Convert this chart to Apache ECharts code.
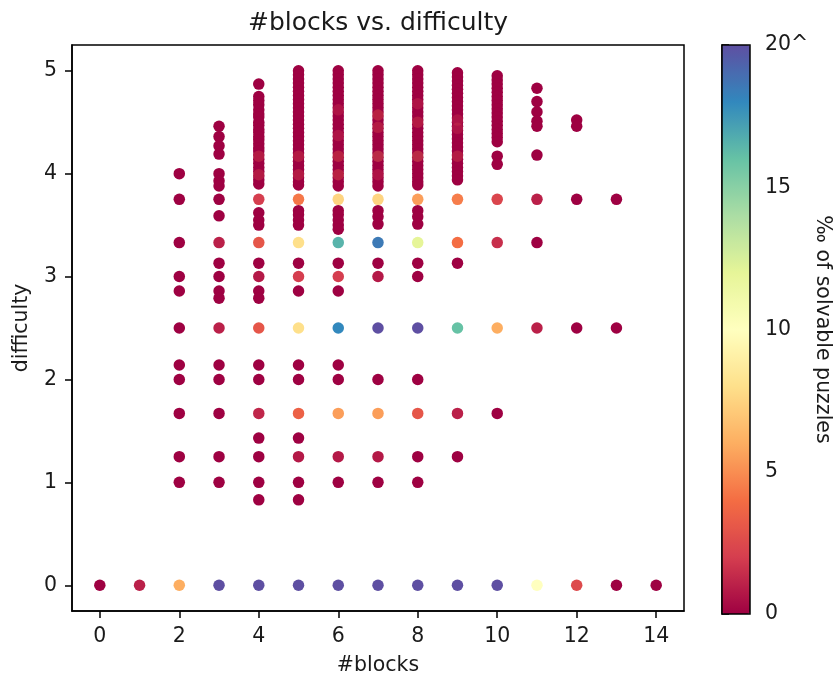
<!DOCTYPE html>
<html>
<head>
<meta charset="utf-8">
<title>#blocks vs. difficulty</title>
<script src="https://cdn.jsdelivr.net/npm/echarts@6/dist/echarts.min.js"></script>
<style>
  html, body { margin: 0; padding: 0; background: #fff; }
  #chart { width: 837px; height: 681px; }
</style>
</head>
<body>
<div id="chart"></div>
<script>
// each entry: [difficulty, ‰ of solvable puzzles]
var blocks0 = [[0, 0]];
var blocks1 = [[0, 1]];
var blocks2 = [[4.0, 0], [3.75, 0], [3.33, 0], [3.0, 0], [2.86, 0], [2.5, 0], [2.14, 0], [2.0, 0], [1.67, 0], [1.25, 0], [1.0, 0], [0, 6]];
var blocks3 = [[4.46, 0], [4.36, 0], [4.27, 0], [4.19, 0], [4.0, 0], [3.93, 0], [3.88, 0], [3.75, 0], [3.59, 0], [3.33, 1],
  [3.13, 0], [3.0, 0], [2.86, 0], [2.79, 0], [2.5, 1], [2.14, 0], [2.0, 0], [1.67, 0], [1.25, 0], [1.0, 0], [0, 20]];
var blocks4 = [[4.87, 0], [4.75, 0], [4.71, 0], [4.67, 0], [4.62, 0], [4.58, 0], [4.55, 0], [4.5, 0], [4.47, 0], [4.43, 0],
  [4.4, 0], [4.36, 0], [4.33, 0], [4.29, 0], [4.25, 0], [4.22, 0], [4.18, 0], [4.14, 0], [4.1, 0], [4.06, 0], [4.02, 0],
  [3.98, 0], [3.94, 0], [3.9, 0], [3.75, 2], [3.62, 0], [3.55, 0], [3.5, 0], [3.33, 3], [3.13, 0], [3.0, 0.8], [2.86, 0],
  [2.79, 0], [2.5, 3], [2.14, 0], [2.0, 0], [1.67, 1.2], [1.43, 0], [1.25, 0], [1.0, 0], [0.83, 0], [0, 20]];
var blocks5 = [[5.0, 0], [4.96, 0], [4.92, 0], [4.88, 0], [4.84, 0], [4.8, 0], [4.76, 0], [4.72, 0], [4.68, 0], [4.64, 0],
  [4.6, 0], [4.56, 0], [4.52, 0], [4.48, 0], [4.44, 0], [4.4, 0], [4.36, 0], [4.32, 0], [4.28, 0], [4.24, 0], [4.2, 0],
  [4.16, 0], [4.12, 0], [4.08, 0], [4.04, 0], [4.0, 0], [3.96, 0], [3.92, 0], [3.89, 0], [3.75, 4.3], [3.64, 0], [3.6, 0],
  [3.55, 0], [3.5, 0], [3.33, 8], [3.13, 0], [3.0, 2], [2.86, 0], [2.5, 8], [2.14, 0], [2.0, 0], [1.67, 3.5], [1.43, 0],
  [1.25, 0.8], [1.0, 0], [0.83, 0], [0, 20]];
var blocks6 = [[5.0, 0], [4.96, 0], [4.92, 0], [4.88, 0], [4.84, 0], [4.8, 0], [4.76, 0], [4.72, 0], [4.68, 0], [4.64, 0],
  [4.6, 0], [4.56, 0], [4.52, 0], [4.48, 0], [4.44, 0], [4.4, 0], [4.36, 0], [4.32, 0], [4.28, 0], [4.24, 0], [4.2, 0],
  [4.16, 0], [4.12, 0], [4.08, 0], [4.04, 0], [4.0, 0], [3.96, 0], [3.92, 0], [3.88, 0], [3.75, 7.5], [3.64, 0], [3.6, 0],
  [3.55, 0], [3.5, 0], [3.46, 0], [3.33, 16.5], [3.13, 0], [3.0, 2], [2.86, 0], [2.5, 18], [2.14, 0], [2.0, 0], [1.67, 5.5],
  [1.25, 0.8], [1.0, 0], [0, 20]];
var blocks7 = [[5.0, 0], [4.96, 0], [4.92, 0], [4.88, 0], [4.84, 0], [4.8, 0], [4.76, 0], [4.72, 0], [4.68, 0], [4.64, 0],
  [4.6, 0], [4.56, 0], [4.52, 0], [4.48, 0], [4.44, 0], [4.4, 0], [4.36, 0], [4.32, 0], [4.28, 0], [4.24, 0], [4.2, 0],
  [4.16, 0], [4.12, 0], [4.08, 0], [4.04, 0], [4.0, 0], [3.96, 0], [3.92, 0], [3.88, 0], [3.75, 7.5], [3.64, 0], [3.58, 0],
  [3.51, 0], [3.33, 18.5], [3.13, 0], [3.0, 0.8], [2.5, 20], [2.0, 0], [1.67, 5.5], [1.25, 0.8], [1.0, 0], [0, 20]];
var blocks8 = [[5.0, 0], [4.96, 0], [4.92, 0], [4.88, 0], [4.84, 0], [4.8, 0], [4.76, 0], [4.72, 0], [4.68, 0], [4.64, 0],
  [4.6, 0], [4.56, 0], [4.52, 0], [4.48, 0], [4.44, 0], [4.4, 0], [4.36, 0], [4.32, 0], [4.28, 0], [4.24, 0], [4.2, 0],
  [4.16, 0], [4.12, 0], [4.08, 0], [4.04, 0], [4.0, 0], [3.96, 0], [3.92, 0], [3.89, 0], [3.75, 5.5], [3.64, 0], [3.58, 0],
  [3.51, 0], [3.33, 12], [3.13, 0], [3.0, 0], [2.5, 20], [2.0, 0], [1.67, 3], [1.25, 0], [1.0, 0], [0, 20]];
var blocks9 = [[4.98, 0], [4.94, 0], [4.9, 0], [4.86, 0], [4.82, 0], [4.78, 0], [4.74, 0], [4.7, 0], [4.66, 0], [4.62, 0],
  [4.58, 0], [4.54, 0], [4.5, 0], [4.46, 0], [4.42, 0], [4.38, 0], [4.34, 0], [4.3, 0], [4.26, 0], [4.22, 0], [4.18, 0],
  [4.14, 0], [4.1, 0], [4.06, 0], [4.02, 0], [3.98, 0], [3.94, 0], [3.75, 4.5], [3.33, 4], [3.13, 0], [2.5, 16], [1.67, 1],
  [1.25, 0], [0, 20]];
var blocks10 = [[4.95, 0], [4.91, 0], [4.87, 0], [4.83, 0], [4.79, 0], [4.75, 0], [4.71, 0], [4.67, 0], [4.63, 0], [4.59, 0],
  [4.55, 0], [4.51, 0], [4.47, 0], [4.43, 0], [4.39, 0], [4.35, 0], [4.31, 0], [4.17, 0], [4.09, 0], [3.75, 2.3], [3.33, 1.5],
  [2.5, 6], [1.67, 0], [0, 20]];
var blocks11 = [[4.83, 0], [4.7, 0], [4.6, 0], [4.51, 0], [4.46, 0], [4.18, 0], [3.75, 1], [3.33, 0], [2.5, 1], [0, 10]];
var blocks12 = [[4.52, 0], [4.46, 0], [3.75, 0], [2.5, 0], [0, 2.5]];
var blocks13 = [[3.75, 0], [2.5, 0], [0, 0]];
var blocks14 = [[0, 0]];

// points that sit inside the dense columns and only partly show through
var hidden4 = [[4.17, 3], [3.99, 3]];
var hidden5 = [[4.17, 3], [3.99, 3]];
var hidden6 = [[4.62, 2], [4.37, 2], [4.17, 4], [3.99, 4]];
var hidden7 = [[4.57, 4], [4.45, 3], [4.17, 5], [3.99, 2]];
var hidden8 = [[4.68, 2], [4.5, 3], [4.17, 5]];
var hidden9 = [[4.52, 2], [4.44, 2], [4.17, 3]];

var xTicks = [0, 2, 4, 6, 8, 10, 12, 14];
var yTicks = [0, 1, 2, 3, 4, 5];
var cbarTickLabels = {0: '0', 5: '5', 10: '10', 15: '15', 20: '20^'};
var spectral = ['#9e0142', '#d53e4f', '#f46d43', '#fdae61', '#fee08b', '#ffffbf',
  '#e6f598', '#abdda4', '#66c2a5', '#3288bd', '#5e4fa2'];

var columns = [blocks0, blocks1, blocks2, blocks3, blocks4, blocks5, blocks6, blocks7,
  blocks8, blocks9, blocks10, blocks11, blocks12, blocks13, blocks14];
var hiddenCols = {4: hidden4, 5: hidden5, 6: hidden6, 7: hidden7, 8: hidden8, 9: hidden9};

var mainData = [];
columns.forEach(function (col, n) {
  col.forEach(function (p) { mainData.push([n, p[0], p[1]]); });
});
var hiddenData = [];
Object.keys(hiddenCols).forEach(function (k) {
  hiddenCols[k].forEach(function (p) { hiddenData.push([+k, p[0], p[1]]); });
});

var FONT = 'DejaVu Sans';
var TXT = '#1a1a1a';

var chart = echarts.init(document.getElementById('chart'));
var option = {
  backgroundColor: '#fff',
  animation: false,
  textStyle: { fontFamily: FONT },
  title: {
    text: '#blocks vs. difficulty',
    left: 378,
    textAlign: 'center',
    top: 11,
    padding: 0,
    textStyle: { fontFamily: FONT, fontSize: 25, fontWeight: 'normal', color: TXT }
  },
  grid: [
    { left: 72, top: 45, right: 153, bottom: 67, show: true, borderColor: '#000', borderWidth: 1.5, backgroundColor: '#fff' },
    { left: 722, top: 45, width: 28, height: 569, show: true, borderColor: '#000', borderWidth: 1.5, backgroundColor: 'transparent', z: 10 }
  ],
  xAxis: [
    {
      type: 'value', gridIndex: 0, min: -0.7, max: 14.7,
      name: '#blocks', nameLocation: 'middle', nameGap: 44,
      nameTextStyle: { fontSize: 20.5, color: TXT, fontFamily: FONT },
      splitLine: { show: false },
      axisLine: { show: true, onZero: false, lineStyle: { color: '#000', width: 1.5 } },
      axisTick: { show: true, length: 7, lineStyle: { color: '#000', width: 1.5 }, customValues: xTicks },
      axisLabel: { fontSize: 20.5, color: TXT, margin: 15, customValues: xTicks, fontFamily: FONT }
    },
    { type: 'value', gridIndex: 1, min: 0, max: 1, show: false }
  ],
  yAxis: [
    {
      type: 'value', gridIndex: 0, min: -0.25, max: 5.25,
      name: 'difficulty', nameLocation: 'middle', nameGap: 40,
      nameTextStyle: { fontSize: 20.5, color: TXT, fontFamily: FONT },
      splitLine: { show: false },
      axisLine: { show: true, onZero: false, lineStyle: { color: '#000', width: 1.5 } },
      axisTick: { show: true, length: 7, lineStyle: { color: '#000', width: 1.5 }, customValues: yTicks },
      axisLabel: { fontSize: 20.5, color: TXT, margin: 15, customValues: yTicks, fontFamily: FONT }
    },
    {
      type: 'value', gridIndex: 1, min: 0, max: 20, interval: 5, position: 'right',
      name: '‰ of solvable puzzles', nameLocation: 'middle', nameGap: 60, nameRotate: -90,
      nameTextStyle: { fontSize: 20.5, color: TXT, fontFamily: FONT },
      splitLine: { show: false },
      axisLine: { show: true, lineStyle: { color: '#000', width: 1.5 } },
      axisTick: { show: true, length: 7, lineStyle: { color: '#000', width: 1.5 } },
      axisLabel: {
        fontSize: 20.5, color: TXT, margin: 15, fontFamily: FONT,
        formatter: function (v) { return cbarTickLabels[v]; }
      }
    }
  ],
  visualMap: {
    type: 'continuous',
    min: 0, max: 20,
    dimension: 2,
    seriesIndex: [0, 1],
    calculable: false,
    hoverLink: false,
    left: 722, top: 45,
    itemWidth: 28, itemHeight: 569,
    padding: 0,
    inRange: { color: spectral }
  },
  series: [
    {
      type: 'scatter', xAxisIndex: 0, yAxisIndex: 0,
      symbolSize: 11.5,
      data: mainData,
      itemStyle: { opacity: 1 }
    },
    {
      type: 'scatter', xAxisIndex: 0, yAxisIndex: 0,
      symbolSize: 11.5,
      data: hiddenData,
      itemStyle: { opacity: 0.3 }
    }
  ]
};
chart.setOption(option);
</script>
</body>
</html>
